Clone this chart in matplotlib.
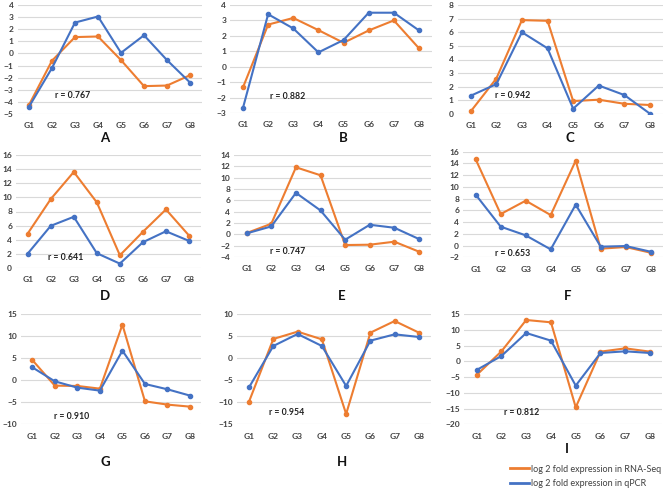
import numpy as np
import matplotlib
matplotlib.use("Agg")
import matplotlib.pyplot as plt
from matplotlib.lines import Line2D

plt.rcParams['font.family'] = ['Lato', 'DejaVu Sans']

# data: log2 fold change per gene, one list per panel
genes = ['G1', 'G2', 'G3', 'G4', 'G5', 'G6', 'G7', 'G8']
panels = ['A', 'B', 'C', 'D', 'E', 'F', 'G', 'H', 'I']

qpcr_A = [-4.4, -1.2, 2.55, 3.05, 0.05, 1.5, -0.55, -2.4]
rna_A = [-4.25, -0.6, 1.35, 1.4, -0.55, -2.7, -2.65, -1.8]
qpcr_B = [-2.67, 3.4, 2.48, 0.93, 1.73, 3.5, 3.5, 2.35]
rna_B = [-1.34, 2.73, 3.16, 2.37, 1.55, 2.35, 3.0, 1.19]
qpcr_C = [1.34, 2.19, 6.0, 4.82, 0.39, 2.09, 1.39, 0.02]
rna_C = [0.19, 2.6, 6.89, 6.84, 0.95, 1.05, 0.75, 0.66]
qpcr_D = [2.04, 5.97, 7.25, 2.09, 0.62, 3.65, 5.2, 3.84]
rna_D = [4.88, 9.76, 13.6, 9.29, 1.8, 5.12, 8.29, 4.6]
qpcr_E = [0.17, 1.4, 7.32, 4.21, -0.95, 1.69, 1.16, -0.83]
rna_E = [0.23, 1.87, 11.83, 10.42, -1.89, -1.83, -1.3, -3.06]
qpcr_F = [8.67, 3.22, 1.74, -0.65, 6.97, -0.19, -0.08, -1.05]
rna_F = [14.69, 5.37, 7.65, 5.2, 14.47, -0.53, -0.25, -1.22]
qpcr_G = [2.92, -0.26, -1.69, -2.37, 6.69, -0.86, -2.07, -3.5]
rna_G = [4.58, -1.24, -1.31, -1.92, 12.58, -4.79, -5.54, -6.0]
qpcr_H = [-6.62, 2.75, 5.47, 2.75, -6.31, 3.96, 5.39, 4.79]
rna_H = [-9.86, 4.34, 6.0, 4.26, -12.66, 5.77, 8.41, 5.77]
qpcr_I = [-2.76, 1.68, 8.97, 6.54, -7.73, 2.63, 3.16, 2.63]
rna_I = [-4.34, 3.16, 13.1, 12.36, -14.6, 3.05, 4.1, 3.05]

qpcr = [qpcr_A, qpcr_B, qpcr_C, qpcr_D, qpcr_E, qpcr_F, qpcr_G, qpcr_H, qpcr_I]
rna = [rna_A, rna_B, rna_C, rna_D, rna_E, rna_F, rna_G, rna_H, rna_I]
r_values = ['0.767', '0.882', '0.942', '0.641', '0.747', '0.653', '0.910', '0.954', '0.812']

y_min = [-5, -3, 0, 0, -4, -2, -10, -15, -20]
y_max = [4, 4, 8, 16, 14, 16, 15, 10, 15]
y_step = [1, 1, 1, 2, 2, 2, 5, 5, 5]

# layout in pixels: left, right, top, bottom of the plot area
W, H = 667, 491
boxes = [
    (17.5, 201.5, 5, 114), (230.4, 431.6, 5, 113), (457.9, 662.8, 5, 114),
    (16.2, 200.5, 155, 268), (234.4, 431.3, 155, 257), (463.2, 663.2, 151.7, 257.3),
    (21.0, 201.3, 314, 424.3), (236.9, 431.1, 314, 424.3), (464.3, 662.4, 314, 424.3),
]
r_pos = [(0.205, 0.174), (0.197, 0.151), (0.181, 0.17),
         (0.171, 0.095), (0.181, 0.052), (0.159, 0.038),
         (0.185, 0.069), (0.167, 0.105), (0.198, 0.105)]
letter_pos = [(105, 138), (343, 138), (570, 138),
              (105, 296), (342, 296), (568, 296),
              (105, 462), (342, 462), (567, 449)]

ORANGE = '#ED7D31'
BLUE = '#4472C4'
TXT = '#404040'

fig = plt.figure(figsize=(W / 100, H / 100), dpi=100)
fig.patch.set_facecolor('white')

x = np.arange(len(genes))
for i, p in enumerate(panels):
    l, r, t, b = boxes[i]
    ax = fig.add_axes([l / W, 1 - b / H, (r - l) / W, (b - t) / H])
    ax.plot(x, rna[i], color=ORANGE, lw=1.5, marker='o', ms=3, zorder=3)
    ax.plot(x, qpcr[i], color=BLUE, lw=1.5, marker='o', ms=3, zorder=4)
    ax.set_xlim(-0.5, len(genes) - 0.5)
    ax.set_ylim(y_min[i], y_max[i])
    ax.set_yticks(np.arange(y_min[i], y_max[i] + 0.1, y_step[i]))
    ax.set_xticks(x)
    ax.set_xticklabels(genes)
    ax.grid(axis='y', color='#D9D9D9', lw=0.8, zorder=0)
    ax.set_axisbelow(True)
    for s in ax.spines.values():
        s.set_visible(False)
    ax.tick_params(length=0, labelsize=6, labelcolor=TXT, pad=3)
    ax.tick_params(axis='x', pad=6)
    for lab in ax.get_xticklabels() + ax.get_yticklabels():
        lab.set_fontweight('bold')
    ax.text(r_pos[i][0], r_pos[i][1], 'r = ' + r_values[i], transform=ax.transAxes,
            fontsize=6.3, color='#222222', fontweight='bold', va='center', ha='left')
    fig.text(letter_pos[i][0] / W, 1 - letter_pos[i][1] / H, p, fontsize=9.5,
             fontweight='bold', color='#111111', ha='center', va='center')

handles = [Line2D([], [], color=ORANGE, lw=2), Line2D([], [], color=BLUE, lw=2)]
labels = ['log 2 fold expression in RNA-Seq', 'log 2 fold expression in qPCR']
fig.legend(handles, labels, loc='upper left', bbox_to_anchor=(505 / W, 1 - 460 / H),
           frameon=False, fontsize=6.5, handlelength=2.2, handletextpad=0.2,
           labelspacing=0.6, borderpad=0, labelcolor='#404040')

fig.savefig('out.png', dpi=100)
